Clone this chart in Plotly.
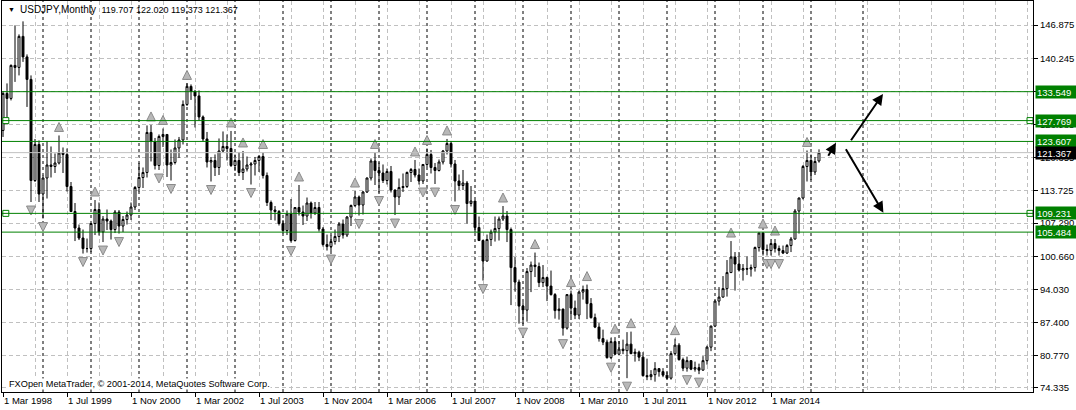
import numpy as np
import pandas as pd
import plotly.graph_objects as go

# ---------------- data (USDJPY monthly, Mar 1998 .. Mar 2015) ----------------
start_month = "1998-03-01"

opens = [
    125.8, 133.2, 132.2, 138.8, 138.4, 144.6, 140.5, 136.0, 115.8, 123.0,                    # 1998
    113.1, 116.3, 118.9, 118.6, 119.3, 121.3, 121.0, 114.6, 109.6, 106.3, 104.3, 102.2,      # 1999
    102.2, 107.2, 110.0, 105.5, 108.1, 107.7, 106.0, 109.5, 106.7, 108.0, 108.9, 110.5,      # 2000
    114.4, 116.4, 117.4, 125.4, 123.6, 118.8, 124.6, 125.0, 118.9, 119.4, 122.3, 123.9,      # 2001
    131.0, 134.6, 133.6, 132.7, 128.5, 124.1, 119.5, 119.8, 118.4, 121.7, 122.6, 122.2,      # 2002
    118.8, 119.8, 117.4, 118.1, 118.9, 119.1, 119.8, 120.6, 116.8, 111.4, 109.9, 109.6,      # 2003
    107.2, 105.8, 109.1, 103.8, 110.4, 109.5, 108.7, 111.3, 109.3, 110.4, 106.1, 103.0,      # 2004
    102.6, 103.6, 104.6, 107.1, 104.9, 108.5, 110.8, 112.5, 110.9, 113.5, 116.3, 119.7,      # 2005
    117.8, 117.3, 115.8, 117.6, 113.9, 112.5, 114.4, 114.6, 117.4, 118.0, 116.9, 115.7,      # 2006
    119.0, 121.0, 118.4, 117.8, 119.5, 121.7, 123.2, 119.1, 115.7, 114.8, 115.3, 111.2,      # 2007
    111.7, 106.4, 103.8, 99.7, 104.0, 105.5, 106.2, 108.1, 108.7, 106.0, 98.4, 95.5,         # 2008
    90.7, 89.9, 97.6, 98.9, 98.6, 95.4, 96.4, 94.7, 93.0, 89.8, 90.1, 86.3,                  # 2009
    93.0, 90.3, 88.9, 93.5, 94.0, 91.2, 88.4, 86.5, 84.2, 83.5, 80.4, 83.6,                  # 2010
    81.1, 82.1, 81.8, 83.1, 81.2, 81.5, 80.5, 76.8, 76.6, 77.0, 78.2, 77.6,                  # 2011
    76.9, 76.3, 81.2, 82.9, 80.0, 78.3, 79.8, 78.1, 78.4, 77.9, 79.8, 82.5,                  # 2012
    86.7, 91.7, 92.5, 94.2, 97.4, 100.5, 99.1, 97.9, 98.2, 98.1, 98.4, 102.4,                # 2013
    105.3, 102.0, 101.8, 103.2, 102.2, 101.8, 101.3, 102.8, 104.1, 109.7, 112.3, 118.6,      # 2014
    119.8, 117.5, 119.707,                                                                   # 2015
]
highs = [
    133.6, 135.2, 139.0, 146.8, 145.0, 147.6, 141.0, 136.8, 124.1, 123.8,
    116.8, 123.7, 122.6, 121.2, 124.8, 122.4, 122.2, 115.5, 111.3, 107.0, 106.0, 104.2,
    107.3, 111.9, 111.4, 108.7, 110.0, 108.0, 109.9, 109.9, 108.7, 109.6, 111.4, 114.7,
    119.3, 118.4, 126.8, 126.9, 124.3, 125.0, 126.2, 125.0, 122.0, 124.0, 124.5, 131.8,
    135.2, 135.0, 133.9, 133.8, 128.8, 125.5, 120.5, 121.0, 124.2, 125.6, 125.0, 125.7,
    121.0, 121.5, 121.7, 120.6, 119.5, 120.5, 120.9, 121.4, 117.4, 111.8, 110.7, 109.9,
    107.9, 109.8, 112.1, 110.5, 114.9, 110.8, 112.4, 111.6, 111.5, 111.5, 106.5, 105.0,
    104.8, 106.0, 107.5, 108.0, 108.7, 111.0, 113.7, 112.8, 113.7, 116.4, 120.2, 121.4,
    119.4, 119.0, 118.2, 118.7, 114.0, 116.2, 117.2, 117.6, 118.3, 119.9, 118.2, 119.1,
    122.2, 121.9, 119.3, 120.0, 121.9, 124.1, 123.7, 119.9, 117.0, 117.9, 115.7, 114.7,
    111.8, 108.6, 104.0, 105.0, 106.0, 108.6, 108.6, 110.7, 109.7, 106.4, 100.5, 96.0,
    91.5, 98.3, 99.6, 101.4, 99.4, 98.9, 96.6, 97.8, 93.3, 92.3, 90.2, 93.1,
    93.8, 91.8, 93.8, 94.8, 95.0, 92.3, 89.2, 87.3, 86.0, 84.0, 84.4, 84.5,
    83.7, 84.0, 85.5, 85.6, 82.2, 81.8, 81.5, 80.2, 77.9, 79.5, 78.3, 78.3,
    77.5, 81.7, 84.2, 83.3, 80.4, 80.6, 79.9, 79.6, 79.2, 80.7, 82.8, 86.8,
    91.8, 94.5, 96.7, 99.9, 103.7, 101.5, 101.5, 99.1, 100.6, 99.0, 102.6, 105.4,
    105.5, 103.0, 104.1, 104.1, 102.8, 102.8, 103.1, 104.5, 110.1, 112.4, 118.9, 121.8,
    121.0, 120.5, 122.020,
]
lows = [
    124.5, 127.0, 131.8, 135.5, 136.8, 139.5, 130.5, 111.5, 115.5, 111.5,
    108.2, 112.2, 116.4, 117.3, 119.0, 117.3, 113.6, 109.5, 103.7, 103.9, 101.2, 101.4,
    101.5, 104.9, 104.8, 103.5, 105.9, 104.0, 105.3, 105.2, 105.5, 107.0, 107.9, 109.9,
    113.6, 114.3, 116.4, 119.6, 118.0, 117.9, 122.5, 116.5, 115.8, 119.0, 120.3, 123.0,
    130.7, 131.9, 126.4, 127.7, 123.6, 118.4, 115.6, 116.7, 116.9, 121.4, 119.8, 118.5,
    117.7, 116.7, 115.9, 117.6, 115.0, 116.8, 117.5, 116.2, 110.7, 107.9, 107.8, 106.8,
    105.2, 104.9, 103.4, 103.6, 108.8, 106.9, 107.7, 108.2, 108.9, 105.6, 102.6, 101.8,
    101.7, 103.0, 103.5, 104.2, 104.5, 106.7, 110.5, 108.8, 109.0, 113.3, 115.8, 114.9,
    113.4, 115.3, 115.0, 113.4, 108.9, 110.9, 113.5, 114.3, 115.5, 116.4, 115.0, 115.1,
    118.5, 117.2, 115.1, 117.6, 119.0, 121.0, 118.4, 111.6, 113.9, 113.9, 107.2, 110.6,
    105.4, 103.7, 95.8, 99.6, 102.7, 103.6, 103.8, 107.7, 103.5, 90.9, 93.6, 87.2,
    87.1, 87.6, 93.5, 96.5, 94.5, 94.5, 91.7, 92.8, 88.2, 88.0, 84.8, 86.0,
    88.5, 88.1, 88.1, 92.0, 88.1, 88.2, 86.3, 83.6, 82.9, 80.2, 80.1, 80.9,
    81.0, 81.1, 76.3, 81.1, 79.6, 79.7, 76.6, 75.9, 75.9, 75.6, 76.6, 76.5,
    76.1, 76.0, 80.9, 79.8, 77.7, 77.6, 77.9, 77.6, 77.1, 77.8, 79.0, 81.7,
    86.5, 90.8, 92.4, 92.6, 97.3, 93.8, 97.6, 95.8, 96.9, 96.6, 97.6, 101.6,
    100.8, 100.8, 100.8, 101.4, 100.8, 101.1, 101.1, 101.5, 104.0, 105.2, 112.0, 115.6,
    115.9, 116.9, 119.373,
]
closes = [
    133.2, 132.2, 138.8, 138.4, 144.6, 140.5, 136.0, 115.8, 123.0, 113.1,
    116.3, 118.9, 118.6, 119.3, 121.3, 121.0, 114.6, 109.6, 106.3, 104.3, 102.2, 102.2,
    107.2, 110.0, 105.5, 108.1, 107.7, 106.0, 109.5, 106.7, 108.0, 108.9, 110.5, 114.4,
    116.4, 117.4, 125.4, 123.6, 118.8, 124.6, 125.0, 118.9, 119.4, 122.3, 123.9, 131.0,
    134.6, 133.6, 132.7, 128.5, 124.1, 119.5, 119.8, 118.4, 121.7, 122.6, 122.2, 118.8,
    119.8, 117.4, 118.1, 118.9, 119.1, 119.8, 120.6, 116.8, 111.4, 109.9, 109.6, 107.2,
    105.8, 109.1, 103.8, 110.4, 109.5, 108.7, 111.3, 109.3, 110.4, 106.1, 103.0, 102.6,
    103.6, 104.6, 107.1, 104.9, 108.5, 110.8, 112.5, 110.9, 113.5, 116.3, 119.7, 117.8,
    117.3, 115.8, 117.6, 113.9, 112.5, 114.4, 114.6, 117.4, 118.0, 116.9, 115.7, 119.0,
    121.0, 118.4, 117.8, 119.5, 121.7, 123.2, 119.1, 115.7, 114.8, 115.3, 111.2, 111.7,
    106.4, 103.8, 99.7, 104.0, 105.5, 106.2, 108.1, 108.7, 106.0, 98.4, 95.5, 90.7,
    89.9, 97.6, 98.9, 98.6, 95.4, 96.4, 94.7, 93.0, 89.8, 90.1, 86.3, 93.0,
    90.3, 88.9, 93.5, 94.0, 91.2, 88.4, 86.5, 84.2, 83.5, 80.4, 83.6, 81.1,
    82.1, 81.8, 83.1, 81.2, 81.5, 80.5, 76.8, 76.6, 77.0, 78.2, 77.6, 76.9,
    76.3, 81.2, 82.9, 80.0, 78.3, 79.8, 78.1, 78.4, 77.9, 79.8, 82.5, 86.7,
    91.7, 92.5, 94.2, 97.4, 100.5, 99.1, 97.9, 98.2, 98.1, 98.4, 102.4, 105.3,
    102.0, 101.8, 103.2, 102.2, 101.8, 101.3, 102.8, 104.1, 109.7, 112.3, 118.6, 119.8,
    117.5, 119.6, 121.367,
]

# fractal marks (month of the bar)
up_fractals = ["1999-05", "2000-02", "2001-04", "2001-07", "2002-01", "2002-12", "2003-03",
               "2003-08", "2004-05", "2005-07", "2005-12", "2006-10", "2007-01", "2007-06",
               "2008-08", "2009-04", "2010-01", "2010-05", "2010-12", "2011-04", "2012-03",
               "2013-05", "2014-01", "2014-04", "2014-12"]
down_fractals = ["1998-10", "1999-01", "1999-11", "2000-04", "2000-08", "2001-06", "2001-09",
                 "2002-07", "2003-05", "2004-03", "2005-01", "2005-08", "2006-01", "2006-05",
                 "2006-12", "2007-03", "2007-08", "2008-03", "2009-01", "2009-11", "2010-11",
                 "2011-03", "2011-10", "2012-02", "2012-06", "2012-09", "2014-02", "2014-03",
                 "2014-05"]

# horizontal support / resistance levels
green_levels = [133.549, 127.769, 123.607, 109.231, 105.484]
bid_price = 121.367
anchored_levels = [127.769, 109.231]          # lines with end-point squares
anchor_bars = [0.7, 256.75]                   # bar positions of the squares

# extra separator drawn in the empty future area (bar position)
future_separators = [215]

# y-axis tick labels
y_ticks = [146.875, 140.245, 133.615, 126.985, 120.355, 113.725, 107.290,
           100.660, 94.030, 87.400, 80.770, 74.335]

# hand drawn arrows (bar index, price): tails and heads
arrow_tail_x = [206.1, 211.75, 210.5]
arrow_tail_y = [120.44, 123.55, 122.35]
arrow_head_x = [208.25, 220.0, 220.1]
arrow_head_y = [123.35, 133.1, 109.36]

header_symbol = "USDJPY,Monthly"
header_values = "119.707 122.020 119.373 121.367"
footer_text = "FXOpen MetaTrader, © 2001-2014, MetaQuotes Software Corp."

# ---------------- derived ----------------
n = len(closes)
months = pd.date_range(start_month, periods=n, freq="MS")
idx = np.arange(n)
key = {m.strftime("%Y-%m"): i for i, m in enumerate(months)}

X_MAX = 257.5
sep_idx = [i for i, m in enumerate(months) if m.month == 1] + future_separators

tick_idx = list(range(0, n, 16))
tick_txt = [f"1 {months[i].strftime('%b')} {months[i].year}" for i in tick_idx]

GREEN = "#008000"
GRID = "#c0c0c0"
FONT = "Liberation Sans, Arial"
FS = 9

fig = go.Figure()

fig.add_trace(go.Candlestick(
    x=idx, open=opens, high=highs, low=lows, close=closes,
    increasing=dict(fillcolor="white", line=dict(color="black", width=1)),
    decreasing=dict(fillcolor="black", line=dict(color="black", width=1)),
    whiskerwidth=0, hoverinfo="skip", showlegend=False,
))

ui = [key[m] for m in up_fractals]
di = [key[m] for m in down_fractals]
fig.add_trace(go.Scatter(
    x=ui, y=[highs[i] + 2.6 for i in ui], mode="markers", hoverinfo="skip",
    marker=dict(symbol="arrow-up", size=9, color="#b8b8b8",
                line=dict(color="#8a8a8a", width=1)), showlegend=False))
fig.add_trace(go.Scatter(
    x=di, y=[lows[i] - 2.6 for i in di], mode="markers", hoverinfo="skip",
    marker=dict(symbol="arrow-down", size=9, color="#b8b8b8",
                line=dict(color="#8a8a8a", width=1)), showlegend=False))

shapes = []
for s in sep_idx:
    shapes.append(dict(type="line", xref="x", yref="paper", x0=s, x1=s, y0=0, y1=1,
                       line=dict(color="black", width=1, dash="3px,3px"), layer="below"))
shapes.append(dict(type="line", xref="paper", yref="y", x0=0, x1=1, y0=bid_price, y1=bid_price,
                   line=dict(color="#c0c0c0", width=1)))
for lv in green_levels:
    shapes.append(dict(type="line", xref="paper", yref="y", x0=0, x1=1, y0=lv, y1=lv,
                       line=dict(color=GREEN, width=1)))

sq_x, sq_y = [], []
for lv in anchored_levels:
    for b in anchor_bars:
        sq_x.append(b)
        sq_y.append(lv)
fig.add_trace(go.Scatter(x=sq_x, y=sq_y, mode="markers", hoverinfo="skip", showlegend=False,
                         cliponaxis=False,
                         marker=dict(symbol="square", size=6, color="white",
                                     line=dict(color=GREEN, width=1))))

annotations = []
for tx, ty, hx, hy in zip(arrow_tail_x, arrow_tail_y, arrow_head_x, arrow_head_y):
    annotations.append(dict(x=hx, y=hy, ax=tx, ay=ty, xref="x", yref="y", axref="x", ayref="y",
                            text="", showarrow=True, arrowhead=2, arrowsize=1.1, arrowwidth=2,
                            arrowcolor="black", standoff=0, startstandoff=0))

label_x = 1.0019
for lv in green_levels:
    annotations.append(dict(x=label_x, y=lv, xref="paper", yref="y", xanchor="left",
                            yanchor="middle", text=f"{lv:.3f}", showarrow=False,
                            bgcolor=GREEN, font=dict(color="white", size=FS + 0.5, family=FONT),
                            width=39, height=10, align="left", borderpad=1))
annotations.append(dict(x=label_x, y=bid_price, xref="paper", yref="y", xanchor="left",
                        yanchor="middle", text=f"{bid_price:.3f}", showarrow=False,
                        bgcolor="black", font=dict(color="white", size=FS + 0.5, family=FONT),
                        width=39, height=10, align="left", borderpad=1))

annotations.append(dict(x=0.0155, y=0.977, xref="paper", yref="paper", xanchor="left",
                        yanchor="middle",
                        text=f"{header_symbol}  <span style='font-size:9px'>{header_values}</span>",
                        showarrow=False, font=dict(color="black", size=10, family=FONT)))
annotations.append(dict(x=0.004, y=0.977, xref="paper", yref="paper", xanchor="left",
                        yanchor="middle", text="▼", showarrow=False,
                        font=dict(color="black", size=7, family=FONT)))
annotations.append(dict(x=0.0058, y=0.0205, xref="paper", yref="paper", xanchor="left",
                        yanchor="middle", text=footer_text, showarrow=False, bgcolor="white",
                        font=dict(color="black", size=9.2, family=FONT), borderpad=0))

fig.update_layout(
    width=1076, height=410,
    margin=dict(l=2, r=43, t=1, b=18),
    paper_bgcolor="white", plot_bgcolor="white",
    showlegend=False,
    shapes=shapes, annotations=annotations,
    xaxis=dict(
        range=[-0.25, X_MAX], rangeslider=dict(visible=False),
        tickmode="array", tickvals=tick_idx, ticktext=tick_txt, tickangle=0,
        ticks="outside", ticklen=4, tickcolor="black", ticklabelposition="outside right",
        tickfont=dict(family=FONT, size=FS + 0.5, color="black"),
        showline=True, linecolor="black", linewidth=1, mirror=True,
        showgrid=True, gridcolor=GRID, griddash="4px,3px", gridwidth=1,
        minor=dict(tickmode="linear", tick0=0, dtick=8, showgrid=True, gridcolor=GRID,
                   griddash="4px,3px", gridwidth=1, ticks=""),
        zeroline=False, fixedrange=True,
    ),
    yaxis=dict(
        side="right", range=[73.533, 151.671],
        tickmode="array", tickvals=y_ticks, ticktext=[f"{v:.3f}" for v in y_ticks],
        ticks="outside", ticklen=4, tickcolor="black",
        tickfont=dict(family=FONT, size=FS + 0.5, color="black"),
        showline=True, linecolor="black", linewidth=1, mirror=True,
        showgrid=True, gridcolor=GRID, griddash="4px,3px", gridwidth=1,
        zeroline=False, fixedrange=True,
    ),
)

fig.write_html(
    "out.html",
    config={"displayModeBar": False},
    post_script="document.body.style.margin='0px';document.body.style.overflow='hidden';",
)
